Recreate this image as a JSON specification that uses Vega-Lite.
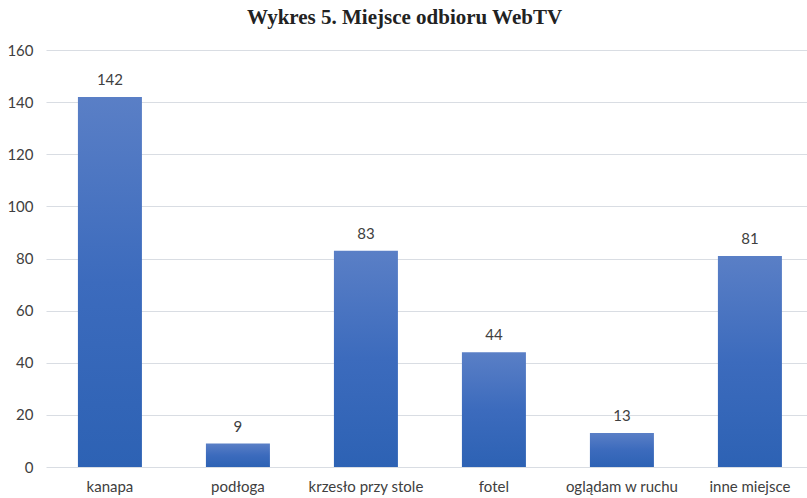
{
  "$schema": "https://vega.github.io/schema/vega-lite/v6.json",
  "autosize": "none",
  "padding": {"left": 46, "top": 50, "right": 0, "bottom": 31},
  "width": 761,
  "height": 417,
  "background": "white",
  "title": {
    "text": "Wykres 5. Miejsce odbioru WebTV",
    "font": "Liberation Serif",
    "fontSize": 21,
    "fontWeight": "bold",
    "color": "#222222",
    "anchor": "middle",
    "dx": -22,
    "offset": 15
  },
  "data": {
    "values": [
      {"miejsce": "kanapa", "liczba": 142},
      {"miejsce": "podłoga", "liczba": 9},
      {"miejsce": "krzesło przy stole", "liczba": 83},
      {"miejsce": "fotel", "liczba": 44},
      {"miejsce": "oglądam w ruchu", "liczba": 13},
      {"miejsce": "inne miejsce", "liczba": 81}
    ]
  },
  "config": {
    "view": {"stroke": null},
    "axis": {"labelFont": "Lato", "labelColor": "#404040"}
  },
  "encoding": {
    "x": {
      "field": "miejsce",
      "type": "nominal",
      "sort": null,
      "scale": {"paddingInner": 0.5, "paddingOuter": 0.2227, "align": 0.56},
      "axis": {
        "title": null,
        "labelAngle": 0,
        "labelFontSize": 15,
        "labelPadding": 12,
        "ticks": false,
        "domain": false
      }
    },
    "y": {
      "field": "liczba",
      "type": "quantitative",
      "scale": {"domain": [0, 160]},
      "axis": {
        "title": null,
        "values": [0, 20, 40, 60, 80, 100, 120, 140, 160],
        "labelFontSize": 15,
        "labelPadding": 13,
        "ticks": false,
        "domain": false,
        "gridColor": "#d9dde3",
        "gridWidth": 1
      }
    }
  },
  "layer": [
    {
      "mark": {
        "type": "bar",
        "color": {
          "gradient": "linear",
          "x1": 0, "y1": 0, "x2": 0, "y2": 1,
          "stops": [
            {"offset": 0, "color": "#5a7fc6"},
            {"offset": 0.5, "color": "#3c6bbd"},
            {"offset": 1, "color": "#2d62b4"}
          ]
        }
      }
    },
    {
      "mark": {
        "type": "text",
        "dy": -17,
        "font": "Lato",
        "fontSize": 15,
        "color": "#404040"
      },
      "encoding": {"text": {"field": "liczba", "type": "quantitative"}}
    }
  ]
}
